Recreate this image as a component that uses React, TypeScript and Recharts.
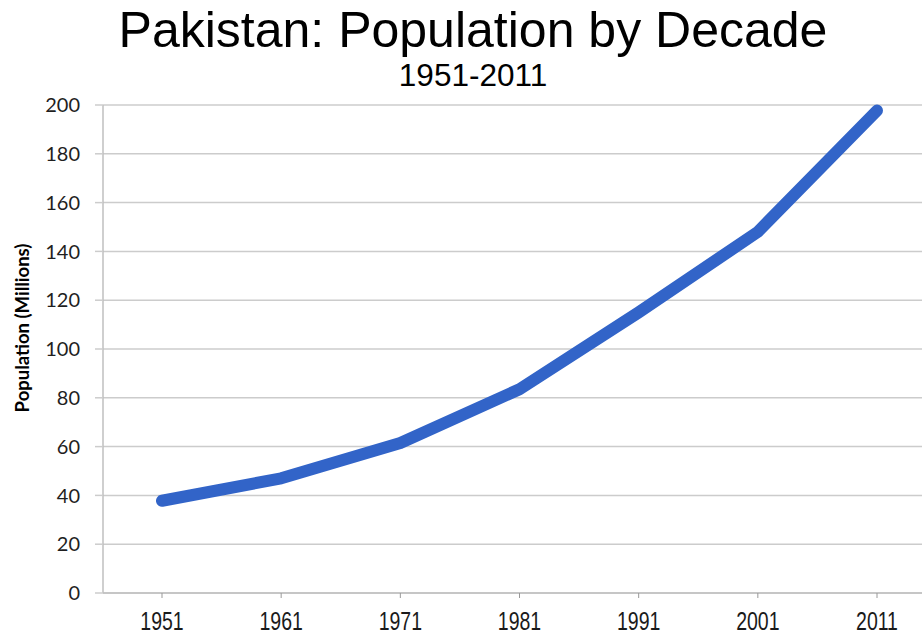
import { LineChart, Line, XAxis, YAxis, CartesianGrid } from 'recharts';

const decades = ['1951', '1961', '1971', '1981', '1991', '2001', '2011'];
const population = [37.8, 47, 61.5, 83.5, 115, 148, 197.7];
const yTicks = [0, 20, 40, 60, 80, 100, 120, 140, 160, 180, 200];

const chartData = decades.map((year, i) => ({ year, population: population[i] }));

const CHART_W = 946;
const CHART_H = 634;

// Narrow year labels (the reference uses a condensed face)
function YearTick({ x, y, payload }: any) {
  return (
    <g transform={`translate(${x},${y}) scale(0.78,1)`}>
      <text
        x={0}
        y={0}
        dy={32}
        textAnchor="middle"
        fontFamily='"Liberation Sans", Arial, sans-serif'
        fontSize={25}
        fill="#1a1a1a"
      >
        {payload.value}
      </text>
    </g>
  );
}

export default function App() {
  return (
    <div
      style={{
        position: 'absolute',
        left: 0,
        top: 0,
        width: 922,
        height: 634,
        overflow: 'hidden',
        background: '#fff',
      }}
    >
      {/* Titles */}
      <div
        style={{
          position: 'absolute',
          left: 0,
          top: 5,
          width: CHART_W,
          textAlign: 'center',
          fontFamily: '"Liberation Sans", Arial, sans-serif',
          fontSize: 50,
          lineHeight: '50px',
          color: '#000',
          whiteSpace: 'nowrap',
        }}
      >
        Pakistan: Population by Decade
      </div>
      <div
        style={{
          position: 'absolute',
          left: 0,
          top: 60,
          width: CHART_W,
          textAlign: 'center',
          fontFamily: '"Liberation Sans", Arial, sans-serif',
          fontSize: 31.5,
          lineHeight: '31px',
          color: '#000',
          whiteSpace: 'nowrap',
        }}
      >
        1951-2011
      </div>

      <div style={{ position: 'absolute', left: 0, top: 0 }}>
        <LineChart
          width={CHART_W}
          height={CHART_H}
          data={chartData}
          margin={{ top: 105, right: 10, bottom: 0, left: 0 }}
        >
          <CartesianGrid vertical={false} stroke="#cccccc" strokeWidth={1.5} />
          <XAxis
            dataKey="year"
            height={41}
            padding={{ left: 59, right: 59 }}
            tickSize={5}
            tickMargin={0}
            axisLine={{ stroke: '#bfbfbf', strokeWidth: 1.5 }}
            tickLine={{ stroke: '#999999' }}
            tick={<YearTick />}
          />
          <YAxis
            width={103}
            domain={[0, 200]}
            ticks={yTicks}
            interval={0}
            tickSize={8}
            tickMargin={15}
            axisLine={{ stroke: '#bfbfbf', strokeWidth: 1.5 }}
            tickLine={{ stroke: '#cccccc', strokeWidth: 1.5 }}
            tick={{ fontSize: 20, fill: '#1f1f1f', fontFamily: 'Lato, sans-serif' }}
            label={{
              content: ({ viewBox }: any) => {
                const cx = viewBox.x + 22;
                const cy = viewBox.y + viewBox.height / 2 - 21;
                return (
                  <text
                    x={cx}
                    y={cy}
                    transform={`rotate(-90, ${cx}, ${cy})`}
                    textAnchor="middle"
                    dominantBaseline="central"
                    fontFamily="Lato, sans-serif"
                    fontWeight="bold"
                    fontSize={18.5}
                    fill="#000"
                  >
                    Population (Millions)
                  </text>
                );
              },
            }}
          />
          <Line
            type="linear"
            dataKey="population"
            stroke="#3264c8"
            strokeWidth={12}
            strokeLinecap="round"
            strokeLinejoin="round"
            dot={false}
            activeDot={false}
            isAnimationActive={false}
          />
        </LineChart>
      </div>
    </div>
  );
}
